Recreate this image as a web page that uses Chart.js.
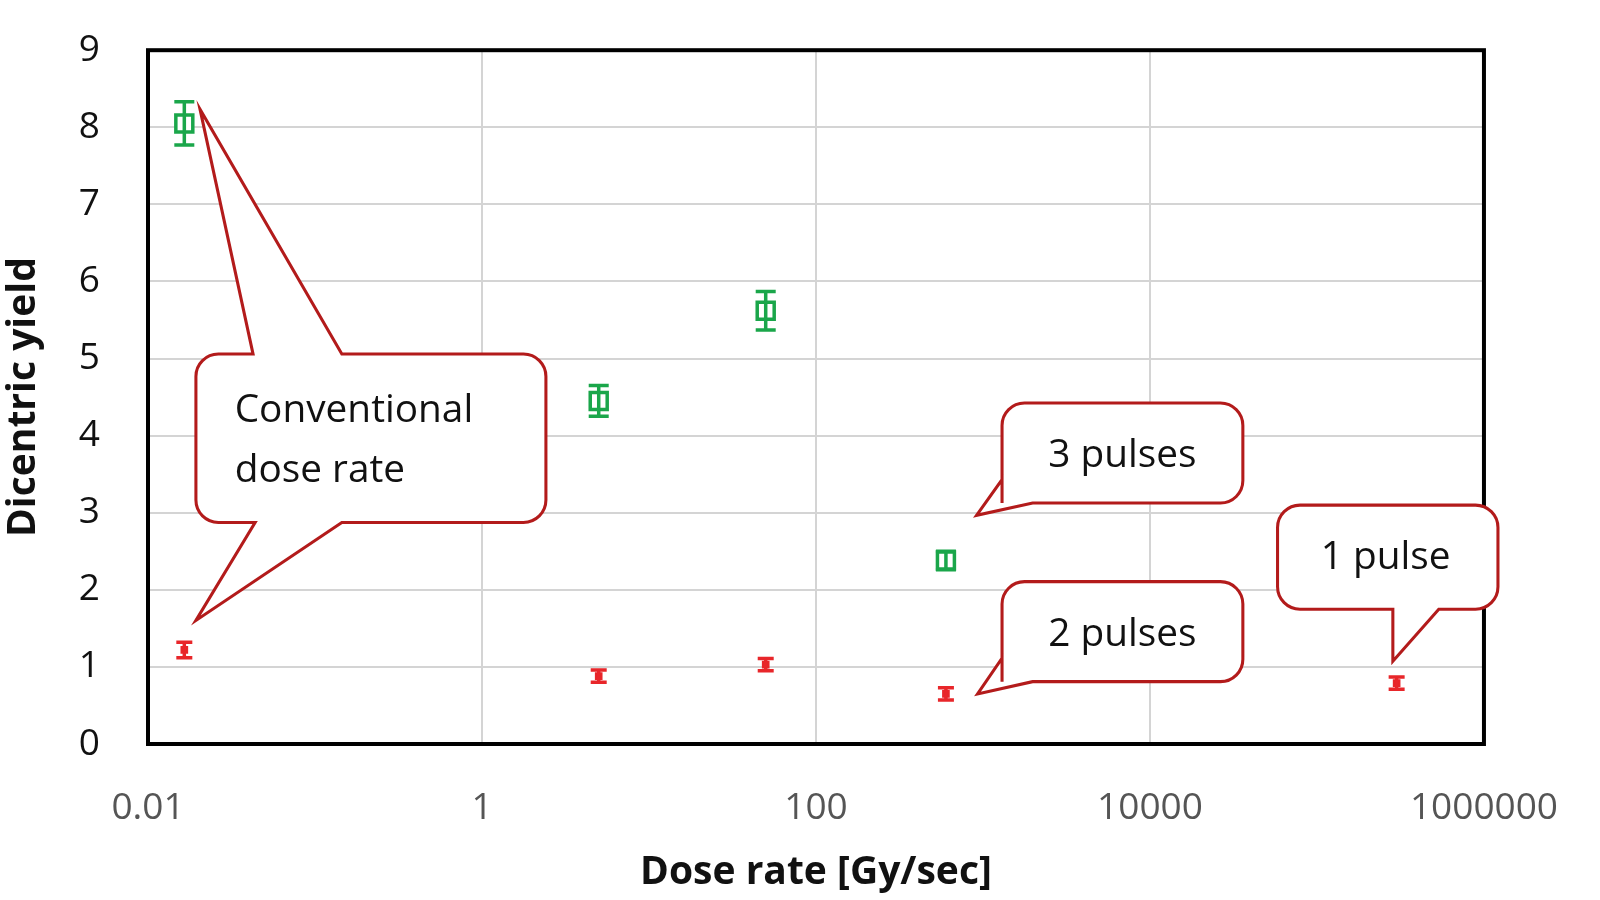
<!DOCTYPE html>
<html><head><meta charset="utf-8">
<script src="https://cdn.jsdelivr.net/npm/chart.js@4"></script>
<style>html,body{margin:0;padding:0;background:#fff;overflow:hidden}
#wrap{position:absolute;left:0;top:-20px;width:1600px;height:920px}</style>
</head><body><div id="wrap"><canvas id="c" width="1600" height="920"></canvas></div>
<script>
const xTicks = [0.01, 1, 100, 10000, 1000000];
const greenX = [0.0165, 5.0, 50, 600];
const greenY = [8.05, 4.45, 5.62, 2.38];
const greenErr = [0.28, 0.2, 0.25, 0.12];
const redX = [0.0165, 5.0, 50, 600, 300000];
const redY = [1.22, 0.88, 1.03, 0.65, 0.79];
const redErr = [0.1, 0.08, 0.08, 0.08, 0.08];
const GREEN = '#1aa64a', RED = '#e8262a', DARKRED = '#b31b1b';
const FONT = '"Open Sans", Lato, sans-serif';
const K = 1600 / 1568;

const errPlugin = {
  id: 'err',
  afterDatasetsDraw(chart) {
    const ctx = chart.ctx, xs = chart.scales.x, ys = chart.scales.y;
    const sets = [[greenX, greenY, greenErr, GREEN, 10], [redX, redY, redErr, RED, 8]];
    ctx.save();
    sets.forEach(([X, Y, E, col, cap]) => {
      ctx.strokeStyle = col; ctx.lineWidth = 3.5;
      X.forEach((x, i) => {
        const px = xs.getPixelForValue(x);
        const y1 = ys.getPixelForValue(Y[i] - E[i]), y2 = ys.getPixelForValue(Y[i] + E[i]);
        ctx.beginPath();
        ctx.moveTo(px, y1); ctx.lineTo(px, y2);
        ctx.moveTo(px - cap, y1); ctx.lineTo(px + cap, y1);
        ctx.moveTo(px - cap, y2); ctx.lineTo(px + cap, y2);
        ctx.stroke();
      });
    });
    ctx.restore();
  }
};

function callout(ctx, x0, y0, x1, y1, tails) {
  const r = 22;
  ctx.beginPath();
  ctx.moveTo(x0 + r, y0);
  (tails.top || []).forEach(t => { ctx.lineTo(t[0], y0); ctx.lineTo(t[2], t[3]); ctx.lineTo(t[1], y0); });
  ctx.arcTo(x1, y0, x1, y1, r);
  ctx.arcTo(x1, y1, x0, y1, r);
  (tails.bottom || []).forEach(t => { ctx.lineTo(t[1], y1); ctx.lineTo(t[2], t[3]); ctx.lineTo(t[0], y1); });
  if (tails.leftBottom) { const t = tails.leftBottom; ctx.lineTo(t[0], y1); ctx.lineTo(t[2], t[3]); ctx.lineTo(x0, t[1]); }
  ctx.arcTo(x0, y1, x0, y0, r);
  ctx.arcTo(x0, y0, x1, y0, r);
  ctx.closePath();
  ctx.fillStyle = '#fff'; ctx.fill();
  ctx.strokeStyle = DARKRED; ctx.lineWidth = 3; ctx.lineJoin = 'miter'; ctx.stroke();
}

const calloutPlugin = {
  id: 'callouts',
  afterDraw(chart) {
    const ctx = chart.ctx;
    ctx.save();
    ctx.translate(0, 20);
    ctx.scale(K, K);
    callout(ctx, 192, 347, 535, 512, { top: [[248, 335, 196, 107]], bottom: [[250, 335, 192, 608]] });
    callout(ctx, 982, 395, 1218, 493, { leftBottom: [1012, 470, 957, 505] });
    callout(ctx, 982, 570, 1218, 668, { leftBottom: [1012, 645, 958, 680] });
    callout(ctx, 1252, 495, 1468, 597, { bottom: [[1365, 1410, 1365, 648]] });
    ctx.fillStyle = '#111'; ctx.font = '38px ' + FONT; ctx.textBaseline = 'alphabetic';
    ctx.textAlign = 'left';
    ctx.fillText('Conventional', 230, 414);
    ctx.fillText('dose rate', 230, 472);
    ctx.textAlign = 'center';
    ctx.fillText('3 pulses', 1100, 458);
    ctx.fillText('2 pulses', 1100, 633);
    ctx.fillText('1 pulse', 1358, 558);
    ctx.restore();
  }
};

new Chart(document.getElementById('c'), {
  type: 'scatter',
  data: {
    datasets: [
      { data: greenX.map((x, i) => ({ x, y: greenY[i] })), pointStyle: 'rect', pointRadius: 12,
        borderColor: GREEN, backgroundColor: '#fff', borderWidth: 3.5 },
      { data: redX.map((x, i) => ({ x, y: redY[i] })), pointStyle: 'rect', pointRadius: 4,
        borderColor: RED, backgroundColor: RED, borderWidth: 2 }
    ]
  },
  options: {
    responsive: false, animation: false,
    layout: { padding: { left: 0, right: 97, top: 0, bottom: 0 } },
    plugins: { legend: { display: false }, tooltip: { enabled: false } },
    scales: {
      x: {
        type: 'logarithmic', min: 0.01, max: 1000000,
        afterBuildTicks: s => { s.ticks = xTicks.map(v => ({ value: v })); },
        afterFit: s => { s.height = 156; },
        ticks: { callback: v => String(v), color: '#555', font: { size: 37, family: FONT }, padding: 42, maxRotation: 0 },
        grid: { color: '#d4d4d4', lineWidth: 2, drawTicks: false },
        border: { display: false },
        title: { display: true, text: 'Dose rate [Gy/sec]', color: '#111', font: { size: 39, weight: 'bold', family: FONT }, padding: { top: 18 } }
      },
      y: {
        min: 0, max: 9,
        afterFit: s => { s.width = 148; },
        ticks: { stepSize: 1, color: '#111', font: { size: 37, family: FONT }, padding: 48 },
        grid: { color: '#d4d4d4', lineWidth: 2, drawTicks: false },
        border: { display: false },
        title: { display: true, text: 'Dicentric yield', color: '#111', font: { size: 39, weight: 'bold', family: FONT }, padding: 0 }
      }
    }
  },
  plugins: [errPlugin, calloutPlugin, {
    id: 'frame',
    beforeDatasetsDraw(chart) {
      const a = chart.chartArea, ctx = chart.ctx;
      ctx.save(); ctx.strokeStyle = '#000'; ctx.lineWidth = 4;
      ctx.strokeRect(a.left, a.top, a.right - a.left, a.bottom - a.top); ctx.restore();
    }
  }]
});
</script></body></html>
